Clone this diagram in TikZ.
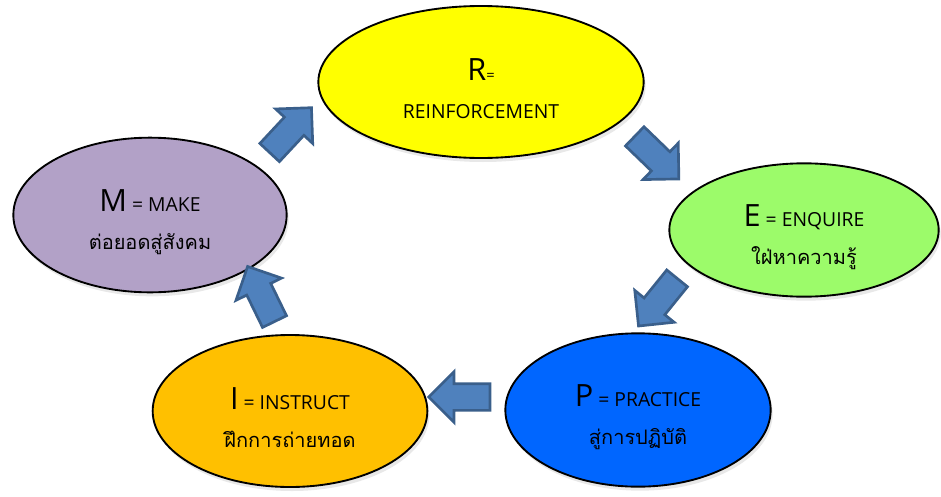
\documentclass[tikz,border=0pt]{standalone}
\usepackage{fontspec}
\setmainfont{Open Sans}
\newfontfamily\thaifont[Script=Thai]{Loma}
\usepackage{tikz}
\usetikzlibrary{shapes}
\usetikzlibrary{shapes.arrows}
\usetikzlibrary{shadows}
\usetikzlibrary{positioning}
\definecolor{rfill}{HTML}{FFFF00}
\definecolor{efill}{HTML}{9CFB6A}
\definecolor{pfill}{HTML}{0066FF}
\definecolor{ifill}{HTML}{FFC000}
\definecolor{mfill}{HTML}{B2A1C7}
\definecolor{arrowfill}{HTML}{4F81BD}
\definecolor{arrowline}{HTML}{3A5F8B}
\newcommand{\bigletter}[1]{\rule{0pt}{27pt}{\fontsize{23}{26}\selectfont #1}}
\newcommand{\thailine}[1]{{\thaifont\fontsize{15}{18}\selectfont #1}}
\tikzstyle{bubble}=[ellipse, draw=black, line width=1.4pt, align=center,
  font=\fontsize{14.5}{28.5}\selectfont,
  drop shadow={opacity=0.18, shadow xshift=1.5pt, shadow yshift=-3pt}]
\tikzstyle{blockarrow}=[single arrow, draw=arrowline, fill=arrowfill, line width=2pt,
  inner sep=9pt, minimum height=46pt, single arrow head extend=9pt]

\begin{document}
\begin{tikzpicture}[x=0.75pt, y=-0.75pt]
        \useasboundingbox (0,0) rectangle (941,496);
        \node[bubble, fill=rfill, minimum width=244pt, minimum height=114pt] at (481,82) (r)
          {\bigletter{R}{\fontsize{11}{13}\selectfont =}\\ REINFORCEMENT};
        \node[bubble, fill=efill, minimum width=202pt, minimum height=100pt] at (804,230) (e)
          {\bigletter{E} = ENQUIRE\\ \thailine{ใฝ่หาความรู้}};
        \node[bubble, fill=pfill, minimum width=199pt, minimum height=115pt] at (638,410) (p)
          {\bigletter{P} = PRACTICE\\ \thailine{สู่การปฏิบัติ}};
        \node[bubble, fill=ifill, minimum width=206pt, minimum height=114pt] at (290,411) (i)
          {\bigletter{I} = INSTRUCT\\ \thailine{ฝึกการถ่ายทอด}};
        \node[bubble, fill=mfill, minimum width=205pt, minimum height=116pt] at (150,215) (m)
          {\bigletter{M} = MAKE\\ \thailine{ต่อยอดสู่สังคม}};
        \node[blockarrow, rotate=47] at (286,135) (toR) {};
        \node[blockarrow, rotate=-44] at (652,153) (toE) {};
        \node[blockarrow, rotate=231] at (662,297) (toP) {};
        \node[blockarrow, rotate=180] at (466,397) (toI) {};
        \node[blockarrow, rotate=116] at (264,300) (toM) {};
      \end{tikzpicture}
\end{document}
